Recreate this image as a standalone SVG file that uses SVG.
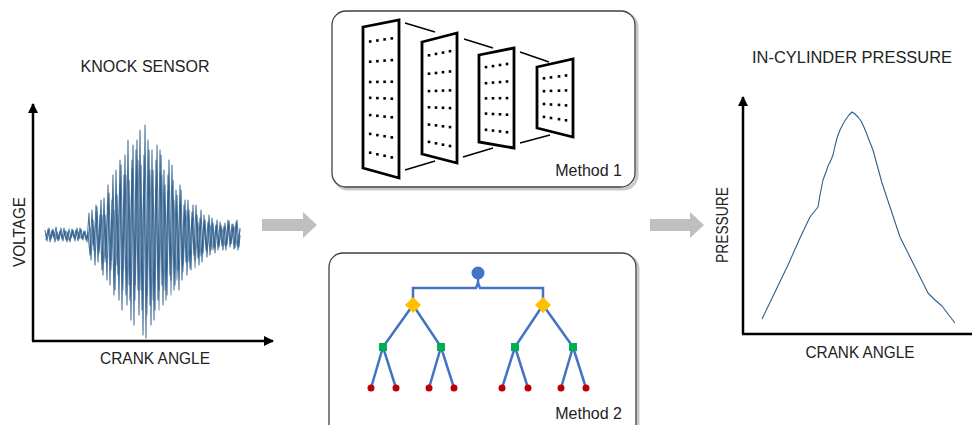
<svg xmlns="http://www.w3.org/2000/svg" width="972" height="425" viewBox="0 0 972 425">
<style>
.lbl{font-family:"Liberation Sans",Arial,sans-serif;fill:#222;font-size:16px}
.axis{stroke:#000;stroke-width:2.5;fill:none}
.box{fill:#fff;stroke:#404040;stroke-width:1.3}
.shadow{fill:none;stroke:#c8c8c8;stroke-width:3}
.panel{fill:#fff;stroke:#000;stroke-width:2.8;stroke-linejoin:miter}
.conn{stroke:#000;stroke-width:1.4}
.dot{fill:#000}
.edge{stroke:#4472C4;stroke-width:2.5;fill:none}
.sig{fill:none;stroke:#2E5E8C;stroke-width:1.1;stroke-linejoin:round}
.garrow{fill:#BFBFBF}
</style>
<defs>
<marker id="ah" viewBox="0 0 10 10" refX="9" refY="5" markerWidth="4" markerHeight="4" orient="auto"><path d="M0,0 L10,5 L0,10 z" fill="#000"/></marker>
<rect id="d" x="-1.3" y="-1.3" width="2.6" height="2.6" class="dot"/>
</defs>
<rect width="972" height="425" fill="#fff"/>

<g id="knock-sensor">
<text class="lbl" x="145" y="72" text-anchor="middle" font-size="17">KNOCK SENSOR</text>
<line class="axis" x1="33" y1="341" x2="33" y2="104" marker-end="url(#ah)"/>
<line class="axis" x1="32" y1="341" x2="273" y2="341" marker-end="url(#ah)"/>
<text class="lbl" x="155" y="364" text-anchor="middle" textLength="110" lengthAdjust="spacingAndGlyphs" font-size="17">CRANK ANGLE</text>
<text class="lbl" transform="translate(25,232) rotate(-90)" text-anchor="middle" textLength="70" lengthAdjust="spacingAndGlyphs" font-size="17">VOLTAGE</text>
<path class="sig" stroke-opacity="0.85" d="M45,230 L47,241 L49,228 L51,239 L53,229 L55,242 L57,232 L59,240 L61,228 L63,241 L65,231 L67,242 L69,229 L71,238 L73,230 L75,241 L77,228 L79,239 L81,229 L83,240 L85,231 L87,242 L89,213 L91,260 L93,220 L95,265 L97,207 L99,253 L101,200 L103,275 L105,215 L107,280 L109,193 L111,260 L113,175 L115,290 L117,195 L119,300 L121,165 L123,270 L125,155 L127,305 L129,180 L131,320 L133,145 L135,285 L137,140 L139,315 L141,165 L143,335 L145,125 L147,295 L149,150 L151,325 L153,170 L155,310 L157,145 L159,290 L161,155 L163,305 L165,185 L167,295 L169,160 L171,280 L173,180 L175,285 L177,195 L179,290 L181,190 L183,265 L185,200 L187,275 L189,210 L191,270 L193,205 L195,260 L197,215 L199,265 L201,210 L203,253 L205,220 L207,257 L209,215 L211,250 L213,223 L215,253 L217,220 L219,247 L221,225 L223,250 L225,223 L227,245 L229,221 L231,244 L233,224 L235,248 L237,220 L239,247 L240,235"/>
<path class="sig" stroke-opacity="0.85" d="M46,240 L48,229 L50,242 L52,230 L54,238 L56,227 L58,241 L60,231 L62,239 L64,228 L66,240 L68,232 L70,242 L72,229 L74,238 L76,230 L78,241 L80,228 L82,239 L84,231 L86,240 L88,233 L90,255 L92,210 L94,250 L96,205 L98,262 L100,215 L102,270 L104,198 L106,258 L108,185 L110,285 L112,200 L114,295 L116,170 L118,275 L120,160 L122,310 L124,175 L126,295 L128,140 L130,300 L132,160 L134,325 L136,150 L138,290 L140,130 L142,310 L144,155 L146,338 L148,140 L150,305 L152,150 L154,320 L156,160 L158,300 L160,150 L162,285 L164,170 L166,300 L168,175 L170,275 L172,165 L174,290 L176,190 L178,270 L180,185 L182,280 L184,205 L186,262 L188,200 L190,268 L192,212 L194,255 L196,205 L198,258 L200,218 L202,262 L204,215 L206,250 L208,222 L210,255 L212,218 L214,248 L216,225 L218,250 L220,222 L222,246 L224,226 L226,250 L228,220 L230,247 L232,224 L234,249 L236,222 L238,250 L240,228"/>
<path class="sig" stroke-opacity="0.6" d="M45,236 L48,233 L51,238 L54,232 L57,239 L60,233 L63,237 L66,231 L69,240 L72,234 L75,237 L78,232 L81,238 L84,233 L87,238 L90,228 L93,245 L96,222 L99,250 L102,215 L105,262 L108,205 L111,270 L114,210 L117,265 L120,185 L123,290 L126,175 L129,285 L132,168 L135,300 L138,160 L141,290 L144,180 L147,315 L150,170 L153,300 L156,185 L159,310 L162,175 L165,290 L168,190 L171,295 L174,200 L177,280 L180,205 L183,272 L186,210 L189,262 L192,218 L195,268 L198,222 L201,256 L204,222 L207,252 L210,225 L213,250 L216,226 L219,245 L222,228 L225,246 L228,227 L231,243 L234,226 L237,246 L240,230"/>
</g>

<g id="arrow-1"><path class="garrow" d="M262,219 L303,219 L303,212 L317,225 L303,238 L303,231 L262,231 z"/></g>
<g id="arrow-2"><path class="garrow" d="M650,219 L690,219 L690,212 L704,225 L690,238 L690,231 L650,231 z"/></g>

<g id="method-1">
<rect class="shadow" x="334" y="13" width="303" height="176" rx="14"/>
<rect class="box" x="332" y="11" width="303" height="176" rx="14"/>
<g id="cnn-connectors">
<line class="conn" x1="405" y1="23" x2="435" y2="32"/>
<line class="conn" x1="464" y1="39" x2="493" y2="48"/>
<line class="conn" x1="520" y1="52" x2="549" y2="62"/>
<line class="conn" x1="405" y1="170" x2="435" y2="161"/>
<line class="conn" x1="463" y1="157" x2="493" y2="148"/>
<line class="conn" x1="520" y1="143" x2="550" y2="135"/>
</g>
<polygon class="panel" points="363,27 399,20 399,178 363,168"/>
<polygon class="panel" points="422,42 457,33 457,163 422,154"/>
<polygon class="panel" points="479,55 514,48 514,148 479,142"/>
<polygon class="panel" points="537,67 573,59 573,137 537,128"/>
<g id="dots-1">
<use href="#d" x="370.2" y="41.5"/><use href="#d" x="377.4" y="40.5"/><use href="#d" x="384.6" y="39.4"/><use href="#d" x="391.8" y="38.4"/>
<use href="#d" x="370.2" y="61.7"/><use href="#d" x="377.4" y="61.2"/><use href="#d" x="384.6" y="60.6"/><use href="#d" x="391.8" y="60.1"/>
<use href="#d" x="370.2" y="82.0"/><use href="#d" x="377.4" y="81.9"/><use href="#d" x="384.6" y="81.8"/><use href="#d" x="391.8" y="81.7"/>
<use href="#d" x="370.2" y="97.8"/><use href="#d" x="377.4" y="98.1"/><use href="#d" x="384.6" y="98.4"/><use href="#d" x="391.8" y="98.7"/>
<use href="#d" x="370.2" y="115.1"/><use href="#d" x="377.4" y="115.8"/><use href="#d" x="384.6" y="116.6"/><use href="#d" x="391.8" y="117.3"/>
<use href="#d" x="370.2" y="133.9"/><use href="#d" x="377.4" y="135.1"/><use href="#d" x="384.6" y="136.2"/><use href="#d" x="391.8" y="137.4"/>
<use href="#d" x="370.2" y="152.7"/><use href="#d" x="377.4" y="154.3"/><use href="#d" x="384.6" y="155.8"/><use href="#d" x="391.8" y="157.4"/>
</g>
<g id="dots-2">
<use href="#d" x="429" y="55.3"/><use href="#d" x="436" y="53.9"/><use href="#d" x="443" y="52.6"/><use href="#d" x="450" y="51.2"/>
<use href="#d" x="429" y="73.7"/><use href="#d" x="436" y="73.0"/><use href="#d" x="443" y="72.2"/><use href="#d" x="450" y="71.5"/>
<use href="#d" x="429" y="91.1"/><use href="#d" x="436" y="90.9"/><use href="#d" x="443" y="90.6"/><use href="#d" x="450" y="90.4"/>
<use href="#d" x="429" y="107.3"/><use href="#d" x="436" y="107.6"/><use href="#d" x="443" y="107.8"/><use href="#d" x="450" y="108.1"/>
<use href="#d" x="429" y="124.6"/><use href="#d" x="436" y="125.4"/><use href="#d" x="443" y="126.3"/><use href="#d" x="450" y="127.1"/>
<use href="#d" x="429" y="141.9"/><use href="#d" x="436" y="143.3"/><use href="#d" x="443" y="144.7"/><use href="#d" x="450" y="146.0"/>
</g>
<g id="dots-3">
<use href="#d" x="486" y="67.1"/><use href="#d" x="493" y="66.1"/><use href="#d" x="500" y="65.0"/><use href="#d" x="507" y="64.0"/>
<use href="#d" x="486" y="83.2"/><use href="#d" x="493" y="82.6"/><use href="#d" x="500" y="82.1"/><use href="#d" x="507" y="81.5"/>
<use href="#d" x="486" y="98.4"/><use href="#d" x="493" y="98.3"/><use href="#d" x="500" y="98.2"/><use href="#d" x="507" y="98.1"/>
<use href="#d" x="486" y="113.6"/><use href="#d" x="493" y="114.0"/><use href="#d" x="500" y="114.3"/><use href="#d" x="507" y="114.7"/>
<use href="#d" x="486" y="129.8"/><use href="#d" x="493" y="130.6"/><use href="#d" x="500" y="131.4"/><use href="#d" x="507" y="132.2"/>
</g>
<g id="dots-4">
<use href="#d" x="544" y="78.3"/><use href="#d" x="551" y="77.4"/><use href="#d" x="559" y="76.4"/><use href="#d" x="566" y="75.5"/>
<use href="#d" x="544" y="91.2"/><use href="#d" x="551" y="90.9"/><use href="#d" x="559" y="90.7"/><use href="#d" x="566" y="90.4"/>
<use href="#d" x="544" y="104.0"/><use href="#d" x="551" y="104.5"/><use href="#d" x="559" y="104.9"/><use href="#d" x="566" y="105.4"/>
<use href="#d" x="544" y="116.9"/><use href="#d" x="551" y="118.0"/><use href="#d" x="559" y="119.2"/><use href="#d" x="566" y="120.3"/>
</g>
<text class="lbl" x="622" y="176" text-anchor="end" font-size="17">Method 1</text>
</g>

<g id="method-2">
<rect class="shadow" x="331" y="255" width="307" height="190" rx="14"/>
<rect class="box" x="329" y="253" width="307" height="190" rx="14"/>
<g id="tree-edges">
<path class="edge" d="M413,305 L413,288 L476,288 L478,283 L480,288 L543,288 L543,305"/>
<line class="edge" x1="478" y1="276" x2="478" y2="285"/>
<path class="edge" d="M383,347 L413,305 L441,347"/>
<path class="edge" d="M515,347 L543,305 L573,347"/>
<path class="edge" d="M371,388 L383,347 L396,388"/>
<path class="edge" d="M429,388 L441,347 L454,388"/>
<path class="edge" d="M502,388 L515,347 L528,388"/>
<path class="edge" d="M561,388 L573,347 L586,388"/>
</g>
<circle cx="478" cy="273" r="6.5" fill="#4472C4"/>
<path d="M413,297 L421,305 L413,313 L405,305 z" fill="#FFC000"/>
<path d="M543,297 L551,305 L543,313 L535,305 z" fill="#FFC000"/>
<rect x="379" y="343" width="8" height="8" fill="#00B050"/>
<rect x="437" y="343" width="8" height="8" fill="#00B050"/>
<rect x="511" y="343" width="8" height="8" fill="#00B050"/>
<rect x="569" y="343" width="8" height="8" fill="#00B050"/>
<g fill="#C00000">
<circle cx="371" cy="388" r="3.5"/><circle cx="396" cy="388" r="3.5"/>
<circle cx="429" cy="388" r="3.5"/><circle cx="454" cy="388" r="3.5"/>
<circle cx="502" cy="388" r="3.5"/><circle cx="528" cy="388" r="3.5"/>
<circle cx="561" cy="388" r="3.5"/><circle cx="586" cy="388" r="3.5"/>
</g>
<text class="lbl" x="622" y="419" text-anchor="end" font-size="17">Method 2</text>
</g>

<g id="in-cylinder-pressure">
<text class="lbl" x="852" y="63" text-anchor="middle" textLength="200" lengthAdjust="spacingAndGlyphs" font-size="17">IN-CYLINDER PRESSURE</text>
<line class="axis" x1="743" y1="334" x2="743" y2="97" marker-end="url(#ah)"/>
<line class="axis" x1="742" y1="334" x2="975" y2="334"/>
<text class="lbl" x="860" y="358" text-anchor="middle" textLength="109" lengthAdjust="spacingAndGlyphs" font-size="17">CRANK ANGLE</text>
<text class="lbl" transform="translate(728,225) rotate(-90)" text-anchor="middle" textLength="76" lengthAdjust="spacingAndGlyphs" font-size="17">PRESSURE</text>
<path class="sig" stroke-width="1.8" d="M762,319 L775,292 L788,265 L800,238 L810,217 L818,207 L820,195 L823,180 L826,172 L828,166 L831,160 L833,155 L835,146 L837,138 L840,130 L843,124 L846,119 L849,115 L852,112 L855,114 L858,117 L861,121 L863,125 L866,132 L869,140 L871,145 L873,150 L876,161 L879,172 L882,183 L886,195 L891,210 L896,225 L900,237 L904,245 L909,255 L913,263 L918,273 L923,283 L928,293 L935,300 L942,306 L948,314 L955,323"/>
</g>
</svg>
